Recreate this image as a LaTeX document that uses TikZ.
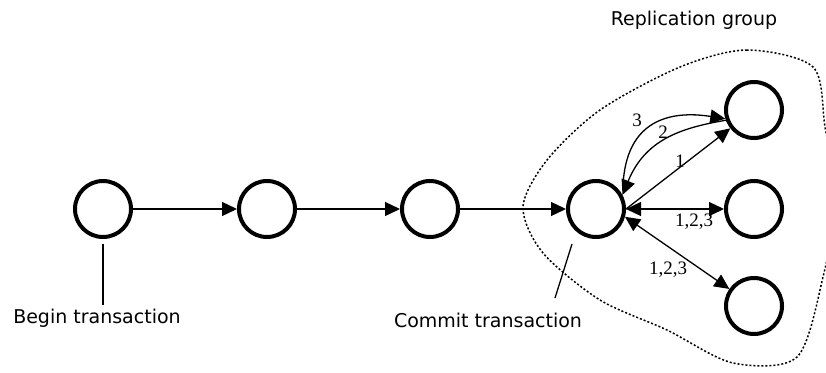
\documentclass[tikz,border=0pt]{standalone}
\usepackage{fontspec}
\setmainfont{Liberation Serif}
\newfontfamily\captfont{DejaVu Sans}
\usetikzlibrary{arrows.meta}
\begin{document}
\begin{tikzpicture}
  [x=1pt,y=-1pt,line width=1.3pt,>={Triangle[length=15pt,width=14pt]},
   state/.style={circle,draw,line width=4pt,minimum size=56pt,inner sep=0pt},
   caption/.style={font=\captfont\fontsize{19}{22}\selectfont},
   num/.style={font=\fontsize{19}{21}\selectfont,inner sep=1pt}]
  \useasboundingbox (0,0) rectangle (826,372);
  \draw[line width=1.5pt,dash pattern=on 2pt off 2pt] plot[smooth cycle] coordinates
    {(813,67) (747,50) (680,67) (600,110) (547,160) (523,207) (543,253) (600,300)
     (667,330) (733,363) (797,357) (823,277) (836,200) (825,127)};
  \node[state] (t1) at (103,209) {};
  \node[state] (t2) at (267,209) {};
  \node[state] (t3) at (430,209) {};
  \node[state] (c)  at (596,209) {};
  \node[state] (r1) at (754,110) {};
  \node[state] (r2) at (754,209) {};
  \node[state] (r3) at (754,306) {};
  \foreach \from/\to in {t1/t2,t2/t3,t3/c}
    \draw[->] (\from) -- (\to);
  \draw[<->] (c) -- (r2);
  \draw[<->] (c.-15) -- (r3);
  \draw[->] (c.east) -- (r1);
  \draw[->] ([xshift=4pt,yshift=4pt]c.40) .. controls (626,120) and (670,110) .. (r1.197);
  \draw[->] (r1.200) .. controls (680,128) and (645,140) .. (c.28);
  \node[num] (l3) at (637,120) {3};
  \node[num] (l2) at (663,132) {2};
  \node[num] (l1) at (680,161) {1};
  \node[num] (l4) at (694,222) {1,2,3};
  \node[num] (l5) at (668,270) {1,2,3};
  \node[caption] (begin) at (97,318) {Begin transaction};
  \node[caption] (commit) at (488,320) {Commit transaction};
  \node[caption] (group) at (694,20) {Replication group};
  \draw ([yshift=-5pt]t1.south) -- (t1.south |- begin.north);
  \coordinate (cp) at (555,298);
  \draw (cp) -- ([xshift=-24pt,yshift=-5pt]c.south);
\end{tikzpicture}
\end{document}
